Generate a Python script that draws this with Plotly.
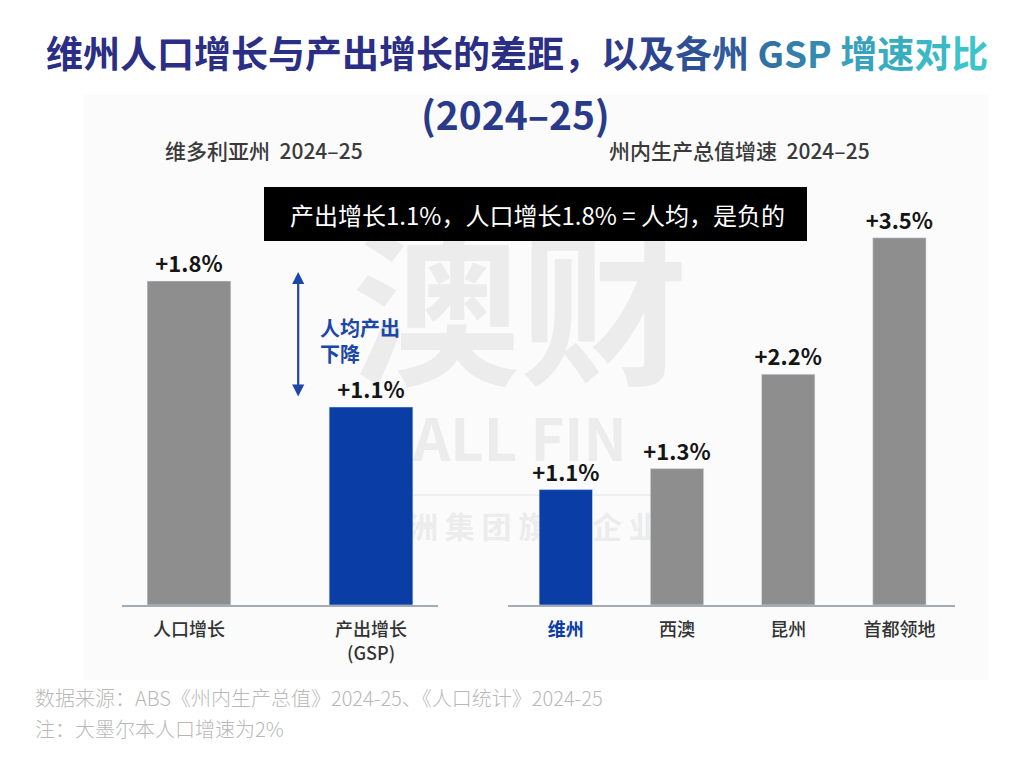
import plotly.graph_objects as go

# data
left_cats = ["人口增长", "产出增长<br>(GSP)"]
left_vals = [1.8, 1.1]
right_cats = ["维州", "西澳", "昆州", "首都领地"]
right_vals = [1.1, 1.3, 2.2, 3.5]

GRAY = "#8e8e8f"
BLUE = "#0a3ea6"
FONT = "Noto Sans CJK SC"

left_colors = [GRAY, BLUE]
right_colors = [BLUE, GRAY, GRAY, GRAY]


def lbl(v):
    return "+%.1f%%" % v


def gradient_title(text, c0, c1, start):
    # colour each character, fading from c0 to c1 after position `start`
    a = [int(c0[i:i + 2], 16) for i in (1, 3, 5)]
    b = [int(c1[i:i + 2], 16) for i in (1, 3, 5)]
    out = []
    n = len(text)
    for i, ch in enumerate(text):
        t = 0 if i < start else (i - start) / max(1, n - 1 - start)
        c = [round(a[k] + (b[k] - a[k]) * t) for k in range(3)]
        out.append("<span style='color:rgb(%d,%d,%d)'>%s</span>" % (c[0], c[1], c[2], ch))
    return "".join(out)


# page has an 8px body margin, so the figure is a bit smaller than the window
OFF = 8
W, H = 1024 - 2 * OFF, 761 - 2 * OFF


def px(x):
    return (x - OFF) / W


def py(y):
    return 1 - (y - OFF) / H


fig = go.Figure()

fig.add_trace(go.Bar(
    x=left_cats, y=left_vals, marker_color=left_colors, width=0.46,
    text=[lbl(v) for v in left_vals], textposition="outside", cliponaxis=False,
    constraintext="none",
    textfont=dict(size=22, color="#151515", family=FONT, weight=700),
    xaxis="x", yaxis="y", showlegend=False,
))
fig.add_trace(go.Bar(
    x=right_cats, y=right_vals, marker_color=right_colors, width=0.48,
    text=[lbl(v) for v in right_vals], textposition="outside", cliponaxis=False,
    constraintext="none",
    textfont=dict(size=22, color="#151515", family=FONT, weight=700),
    xaxis="x2", yaxis="y2", showlegend=False,
))

right_ticktext = [
    "<span style='color:%s'><b>%s</b></span>" % (BLUE, t) if c == BLUE else t
    for t, c in zip(right_cats, right_colors)
]

ydom = [py(605), py(200)]
xaxis_common = dict(
    showline=True, linecolor="#a3abb3", linewidth=1.5, showgrid=False, zeroline=False,
    ticks="outside", ticklen=8, tickcolor="rgba(0,0,0,0)",
    tickfont=dict(size=18, color="#333333", family=FONT, weight=500),
)
yaxis_common = dict(visible=False, showgrid=False, zeroline=False, fixedrange=True)

fig.update_layout(
    width=W, height=H,
    margin=dict(l=0, r=0, t=0, b=0),
    paper_bgcolor="white", plot_bgcolor="rgba(0,0,0,0)",
    font=dict(family=FONT),
    xaxis=dict(domain=[px(122), px(438)], anchor="y", range=[-0.368, 1.368], **xaxis_common),
    yaxis=dict(domain=ydom, anchor="x", range=[0, 2.25], **yaxis_common),
    xaxis2=dict(domain=[px(508), px(955)], anchor="y2", range=[-0.52, 3.5],
                tickvals=right_cats, ticktext=right_ticktext, **xaxis_common),
    yaxis2=dict(domain=ydom, anchor="x2", range=[0, 3.86], **yaxis_common),
)

# light panel, watermark (drawn beneath the bars)
shapes = [
    dict(type="rect", xref="paper", yref="paper", x0=px(84), x1=px(988), y0=py(680), y1=py(95),
         fillcolor="#fbfbfb", line=dict(width=0), layer="below"),
    dict(type="rect", xref="paper", yref="paper", x0=px(340), x1=px(700), y0=py(410), y1=py(240),
         fillcolor="rgba(0,0,0,0)", line=dict(width=0), layer="below",
         label=dict(text="<b>澳财</b>", font=dict(size=168, color="#ececec", family=FONT),
                    textposition="middle center")),
    dict(type="rect", xref="paper", yref="paper", x0=px(340), x1=px(700), y0=py(475), y1=py(415),
         fillcolor="rgba(0,0,0,0)", line=dict(width=0), layer="below",
         label=dict(text="<b>ALL FIN</b>", font=dict(size=58, color="#ececec", family=FONT),
                    textposition="middle center")),
    dict(type="line", xref="paper", yref="paper", x0=px(362), x1=px(665), y0=py(495), y1=py(495),
         line=dict(color="#efefef", width=2), layer="below"),
    dict(type="rect", xref="paper", yref="paper", x0=px(340), x1=px(690), y0=py(555), y1=py(505),
         fillcolor="rgba(0,0,0,0)", line=dict(width=0), layer="below",
         label=dict(text="<b>澳 洲 集 团 旗 下 企 业</b>", font=dict(size=30, color="#ececec", family=FONT),
                    textposition="middle center")),
    # black message box
    dict(type="rect", xref="paper", yref="paper", x0=px(264), x1=px(807), y0=py(241), y1=py(187),
         fillcolor="#000000", line=dict(width=0), layer="above"),
]
fig.update_layout(shapes=shapes)

title1 = gradient_title("维州人口增长与产出增长的差距，以及各州 GSP 增速对比", "#2a2e85", "#3cc4cb", 14)

annotations = [
    dict(text="<b>" + title1 + "</b>", x=px(517), y=py(52), xref="paper", yref="paper",
         showarrow=False, font=dict(size=37, family=FONT), xanchor="center", yanchor="middle"),
    dict(text="<b>(2024–25)</b>", x=px(515), y=py(113), xref="paper", yref="paper",
         showarrow=False, font=dict(size=39, color="#2a3a8a", family=FONT), xanchor="center", yanchor="middle"),
    dict(text="维多利亚州  2024–25", x=px(163), y=py(150), xref="paper", yref="paper",
         showarrow=False, font=dict(size=21, color="#3a3a3a", family=FONT, weight=500),
         xanchor="left", yanchor="middle"),
    dict(text="州内生产总值增速  2024–25", x=px(607), y=py(150), xref="paper", yref="paper",
         showarrow=False, font=dict(size=21, color="#3a3a3a", family=FONT, weight=500),
         xanchor="left", yanchor="middle"),
    dict(text="产出增长1.1%，人口增长1.8% = 人均，是负的", x=px(537), y=py(214), xref="paper", yref="paper",
         showarrow=False, font=dict(size=24, color="#ffffff", family=FONT),
         xanchor="center", yanchor="middle"),
    # per-capita gap arrow, between the two left bars' values
    dict(x=0.6, y=left_vals[0] + 0.05, ax=0.6, ay=left_vals[1] + 0.05, xref="x", yref="y",
         axref="x", ayref="y", text="", showarrow=True, arrowhead=2, startarrowhead=2,
         arrowside="end+start", arrowwidth=2.2, arrowsize=1.1, startarrowsize=1.1, arrowcolor="#1c47a6"),
    dict(text="人均产出<br>下降", x=px(318), y=py(340), xref="paper", yref="paper",
         showarrow=False, font=dict(size=20, color="#1c47a6", family=FONT, weight=700),
         xanchor="left", yanchor="middle", align="left"),
    dict(text="数据来源：ABS《州内生产总值》2024-25、《人口统计》2024-25", x=px(33), y=py(697),
         xref="paper", yref="paper", showarrow=False,
         font=dict(size=20, color="#b8b8b8", family=FONT, weight=300), xanchor="left", yanchor="middle"),
    dict(text="注：大墨尔本人口增速为2%", x=px(33), y=py(728),
         xref="paper", yref="paper", showarrow=False,
         font=dict(size=20, color="#b8b8b8", family=FONT, weight=300), xanchor="left", yanchor="middle"),
]
fig.update_layout(annotations=annotations)

fig.write_html("out.html")
